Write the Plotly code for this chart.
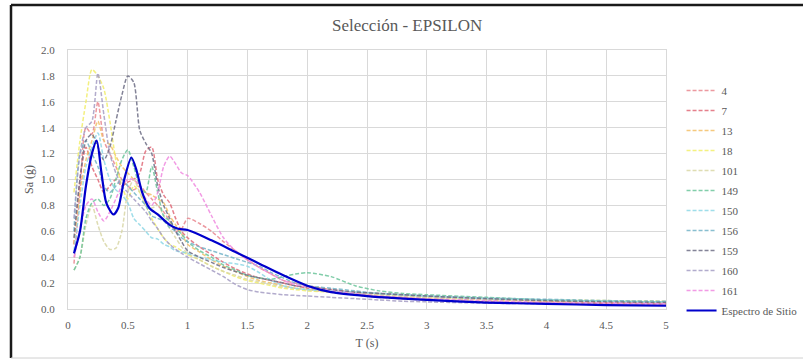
import plotly.graph_objects as go

# ---- data ----
T = [0.05, 0.1, 0.15, 0.2, 0.25, 0.3, 0.35, 0.4, 0.45, 0.5, 0.55, 0.6, 0.65, 0.7, 0.75,
     0.8, 0.85, 0.9, 0.95, 1.0, 1.1, 1.2, 1.3, 1.4, 1.5, 1.6, 1.7, 1.8, 1.9, 2.0,
     2.2, 2.4, 2.6, 2.8, 3.0, 3.5, 4.0, 4.5, 5.0]

sa_4 = [0.35, 0.9, 1.4, 1.35, 1.6, 1.3, 1.2, 1.1, 1.0, 0.95, 0.92, 0.95, 0.9, 0.85, 0.8,
        0.75, 0.68, 0.6, 0.62, 0.70, 0.66, 0.6, 0.52, 0.45, 0.38, 0.32, 0.27, 0.22, 0.2, 0.18,
        0.15, 0.13, 0.12, 0.11, 0.1, 0.08, 0.06, 0.05, 0.045]
sa_7 = [0.5, 1.0, 1.25, 1.1, 1.0, 0.9, 0.95, 1.0, 0.95, 0.98, 1.0, 1.05, 1.22, 1.25, 1.0,
        0.88, 0.82, 0.7, 0.6, 0.55, 0.48, 0.42, 0.36, 0.31, 0.27, 0.24, 0.22, 0.2, 0.18, 0.16,
        0.13, 0.11, 0.09, 0.08, 0.07, 0.055, 0.045, 0.04, 0.035]
sa_13 = [0.5, 0.9, 1.15, 1.3, 1.45, 1.3, 1.27, 1.18, 1.1, 1.05, 1.0, 0.95, 0.9, 0.88, 0.85,
         0.82, 0.72, 0.65, 0.58, 0.5, 0.44, 0.38, 0.33, 0.29, 0.25, 0.22, 0.2, 0.18, 0.16, 0.15,
         0.13, 0.115, 0.1, 0.09, 0.085, 0.07, 0.06, 0.055, 0.05]
sa_18 = [0.9, 1.3, 1.6, 1.85, 1.8, 1.7, 1.45, 1.15, 0.95, 0.85, 0.95, 0.9, 0.8, 0.7, 0.62,
         0.55, 0.5, 0.48, 0.45, 0.42, 0.38, 0.33, 0.29, 0.25, 0.22, 0.2, 0.18, 0.16, 0.15, 0.14,
         0.13, 0.12, 0.11, 0.1, 0.09, 0.08, 0.07, 0.065, 0.06]
sa_101 = [0.3, 0.4, 0.65, 0.8, 0.65, 0.52, 0.46, 0.47, 0.6, 0.9, 1.0, 0.9, 0.8, 0.78, 0.8,
          0.72, 0.62, 0.55, 0.48, 0.43, 0.38, 0.33, 0.29, 0.26, 0.23, 0.21, 0.19, 0.17, 0.16, 0.15,
          0.13, 0.12, 0.11, 0.1, 0.09, 0.075, 0.065, 0.06, 0.055]
sa_149 = [0.3, 0.4, 0.7, 0.82, 0.85, 0.8, 0.85, 1.0, 1.15, 1.23, 1.1, 0.95, 0.9, 1.1, 0.9,
          0.72, 0.68, 0.62, 0.58, 0.52, 0.45, 0.4, 0.34, 0.3, 0.26, 0.24, 0.23, 0.25, 0.27, 0.28,
          0.25, 0.18, 0.14, 0.12, 0.11, 0.09, 0.07, 0.06, 0.055]
sa_150 = [0.45, 0.8, 1.1, 1.25, 1.36, 1.15, 1.0, 0.92, 0.88, 0.82, 0.7, 0.65, 0.6, 0.55, 0.54,
          0.5, 0.48, 0.45, 0.44, 0.43, 0.4, 0.38, 0.36, 0.35, 0.33, 0.28, 0.22, 0.18, 0.16, 0.15,
          0.14, 0.13, 0.12, 0.11, 0.1, 0.08, 0.07, 0.06, 0.055]
sa_156 = [0.6, 1.2, 1.3, 1.2, 1.1, 0.95, 0.9, 0.95, 1.0, 0.95, 0.9, 0.85, 0.8, 0.72, 0.7,
          0.68, 0.63, 0.6, 0.55, 0.52, 0.48, 0.45, 0.42, 0.39, 0.36, 0.33, 0.28, 0.24, 0.2, 0.18,
          0.16, 0.14, 0.12, 0.11, 0.1, 0.085, 0.075, 0.065, 0.06]
sa_159 = [0.55, 1.0, 1.3, 1.35, 1.25, 1.15, 1.25, 1.45, 1.65, 1.8, 1.75, 1.38, 1.28, 1.2, 0.95,
          0.8, 0.7, 0.6, 0.52, 0.45, 0.4, 0.36, 0.32, 0.29, 0.26, 0.24, 0.22, 0.2, 0.18, 0.17,
          0.15, 0.13, 0.12, 0.11, 0.1, 0.08, 0.065, 0.055, 0.05]
sa_160 = [0.7, 1.2, 1.4, 1.45, 1.82, 1.5, 1.2, 1.05, 0.95, 0.9, 0.85, 0.8, 0.75, 0.68, 0.62,
          0.55, 0.5, 0.46, 0.43, 0.4, 0.35, 0.3, 0.25, 0.19, 0.15, 0.13, 0.12, 0.11, 0.105, 0.1,
          0.09, 0.08, 0.07, 0.06, 0.055, 0.045, 0.04, 0.035, 0.03]
sa_161 = [0.4, 0.6, 0.8, 0.85, 0.75, 0.68, 0.75, 0.85, 0.95, 1.0, 1.0, 0.95, 0.85, 0.8, 0.9,
          1.1, 1.18, 1.12, 1.05, 1.03, 0.9, 0.72, 0.55, 0.45, 0.38, 0.32, 0.27, 0.22, 0.19, 0.17,
          0.14, 0.12, 0.1, 0.09, 0.08, 0.065, 0.05, 0.045, 0.04]

T_site = [0.05, 0.1, 0.15, 0.2, 0.24, 0.28, 0.32, 0.38, 0.42, 0.47, 0.53, 0.57, 0.62, 0.68,
          0.75, 0.85, 0.92, 1.0, 1.2, 1.4, 1.6, 1.8, 2.0, 2.2, 2.5, 3.0, 3.5, 4.0, 4.5, 5.0]
sa_site = [0.43, 0.6, 0.95, 1.2, 1.30, 1.05, 0.82, 0.73, 0.78, 1.0, 1.17, 1.08, 0.90, 0.78,
           0.73, 0.65, 0.62, 0.61, 0.53, 0.44, 0.35, 0.26, 0.18, 0.13, 0.10, 0.07, 0.05, 0.04,
           0.03, 0.025]

names = ["4", "7", "13", "18", "101", "149", "150", "156", "159", "160", "161"]
series = [sa_4, sa_7, sa_13, sa_18, sa_101, sa_149, sa_150, sa_156, sa_159, sa_160, sa_161]
colors = ["#E9878F", "#E06A78", "#F3C067", "#F2EE6A", "#D9D7A6", "#6CC59B", "#8ED8E6",
          "#74B4C8", "#6E6E86", "#A59DC4", "#F08AE0"]

xticks = [0, 0.5, 1, 1.5, 2, 2.5, 3, 3.5, 4, 4.5, 5]
xticklabels = ["0", "0.5", "1", "1.5", "2", "2.5", "3", "3.5", "4", "4.5", "5"]

# ---- figure ----
FONT = "Liberation Serif"
GRAY = "#595959"
W, H = 803, 360
L, R, TOP, B = 68, 137, 50, 51
pw, ph = W - L - R, H - TOP - B

def px(xp):
    return (xp - L) / pw

def py(yp):
    return (H - B - yp) / ph

fig = go.Figure()
for n, s, c in zip(names, series, colors):
    fig.add_trace(go.Scatter(x=T, y=s, name=n, mode="lines", opacity=0.85, legendgroup=n,
                             line=dict(color=c, width=1.5, dash="4px,2px",
                                       shape="spline", smoothing=0.7)))
fig.add_trace(go.Scatter(x=T_site, y=sa_site, name="Espectro de Sitio", mode="lines",
                         legendgroup="site",
                         line=dict(color="#0000CC", width=2.2, shape="spline", smoothing=0.7)))

fig.update_layout(
    width=W, height=H,
    margin=dict(l=L, r=R, t=TOP, b=B, autoexpand=False),
    paper_bgcolor="white", plot_bgcolor="white",
    font=dict(family=FONT, color=GRAY, size=11),
    title=dict(text="Selección - EPSILON", x=0.507, xanchor="center", y=0.93, yanchor="middle",
               font=dict(family=FONT, size=17, color=GRAY)),
    showlegend=True,
    legend=dict(x=1.026, xanchor="left", y=py(76), yanchor="top",
                font=dict(family=FONT, size=11, color=GRAY),
                tracegroupgap=1, itemwidth=30, bgcolor="rgba(0,0,0,0)"),
    xaxis=dict(range=[0, 5], tickvals=xticks, ticktext=xticklabels, showgrid=True,
               gridcolor="#D9D9D9", gridwidth=1, zeroline=False, showline=True,
               linecolor="#D9D9D9", mirror=True, ticks="", ticklabelstandoff=6,
               tickfont=dict(family=FONT, size=11, color=GRAY),
               title=dict(text="T (s)", standoff=8, font=dict(family=FONT, size=12, color=GRAY))),
    yaxis=dict(range=[0, 2], dtick=0.2, tickformat=".1f", showgrid=True,
               gridcolor="#D9D9D9", gridwidth=1, zeroline=False, showline=True,
               linecolor="#D9D9D9", mirror=True, ticks="", ticklabelstandoff=10,
               tickfont=dict(family=FONT, size=11, color=GRAY),
               title=dict(text="Sa (g)", standoff=4, font=dict(family=FONT, size=12, color=GRAY))),
    shapes=[
        dict(type="line", xref="paper", yref="paper", x0=px(11), x1=px(11), y0=py(5), y1=py(358),
             line=dict(color="#1A1A1A", width=2.5)),
        dict(type="line", xref="paper", yref="paper", x0=px(11), x1=px(803), y0=py(5), y1=py(5),
             line=dict(color="#1A1A1A", width=2.5)),
        dict(type="line", xref="paper", yref="paper", x0=px(11), x1=px(803), y0=py(358), y1=py(358),
             line=dict(color="#D0D0D0", width=1)),
    ],
)

fig.write_html("out.html")
